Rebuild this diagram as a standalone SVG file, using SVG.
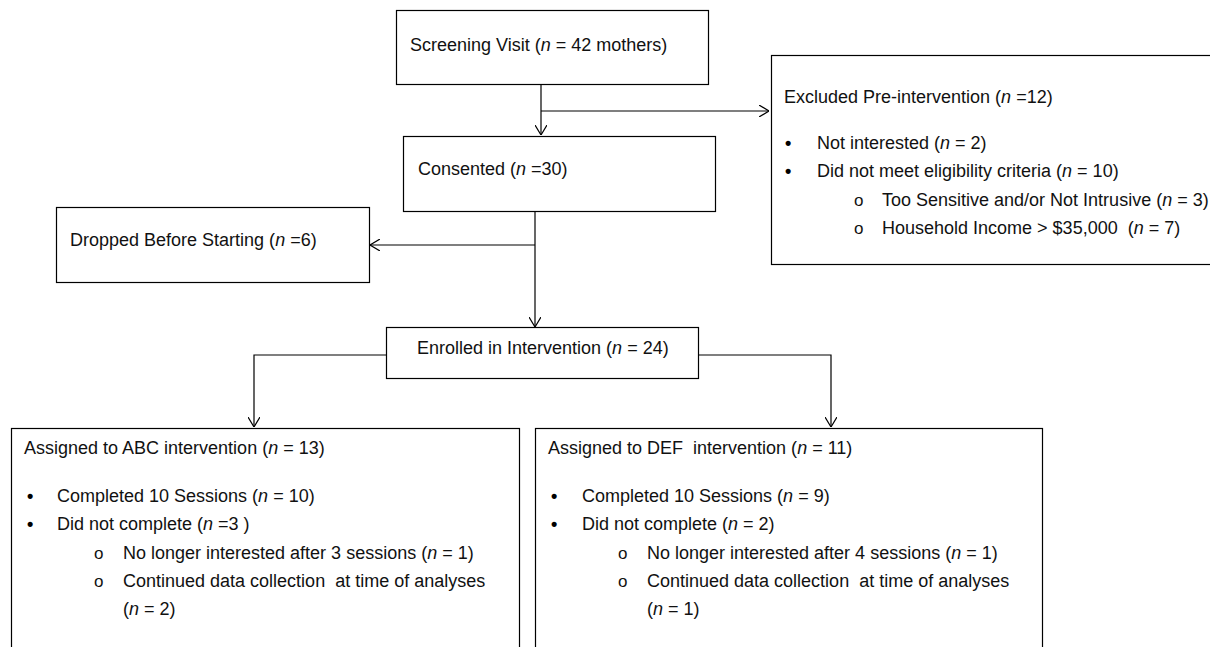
<svg xmlns="http://www.w3.org/2000/svg" width="1210" height="647" viewBox="0 0 1210 647">
<defs>
<style>
.box{fill:#fff;stroke:#000;stroke-width:1.2}
.t{font-family:"Liberation Sans",Arial,sans-serif;font-size:18px;fill:#111}
.i{font-style:italic}
.ln{fill:none;stroke:#000;stroke-width:1.2}
.b{font-family:"Liberation Sans",Arial,sans-serif;font-size:18px;font-weight:bold;fill:#000}
.o{font-family:"Liberation Sans",Arial,sans-serif;font-size:17px;fill:#111}
</style>
<marker id="ar" viewBox="0 0 10 12" refX="10" refY="6" markerWidth="10" markerHeight="12" markerUnits="userSpaceOnUse" orient="auto">
<path d="M0,0 L10,6 L0,12" fill="none" stroke="#000" stroke-width="1.2"/>
</marker>
</defs>
<rect width="1210" height="647" fill="#fff"/>
<g id="connectors">
<path class="ln" d="M541,84 V135" marker-end="url(#ar)"/>
<path class="ln" d="M541,111 H769" marker-end="url(#ar)"/>
<path class="ln" d="M535,211 V327" marker-end="url(#ar)"/>
<path class="ln" d="M535,245 H370" marker-end="url(#ar)"/>
<path class="ln" d="M386,355 H254 V427" marker-end="url(#ar)"/>
<path class="ln" d="M699,355 H831 V427" marker-end="url(#ar)"/>
</g>
<g id="screening">
<rect class="box" x="396.5" y="10.5" width="312" height="74"/>
<text class="t" x="410" y="51">Screening Visit (<tspan class="i">n</tspan> = 42 mothers)</text>
</g>
<g id="excluded">
<rect class="box" x="771.5" y="55.5" width="460" height="209"/>
<text class="t" x="784" y="103">Excluded Pre-intervention (<tspan class="i">n</tspan> =12)</text>
<text class="b" x="785" y="149">•</text>
<text class="t" x="817" y="149">Not interested (<tspan class="i">n</tspan> = 2)</text>
<text class="b" x="785" y="177">•</text>
<text class="t" x="817" y="177">Did not meet eligibility criteria (<tspan class="i">n</tspan> = 10)</text>
<text class="o" x="854" y="206">o</text>
<text class="t" x="882" y="206">Too Sensitive and/or Not Intrusive (<tspan class="i">n</tspan> = 3)</text>
<text class="o" x="854" y="234">o</text>
<text class="t" x="882" y="234">Household Income &gt; $35,000 &#160;(<tspan class="i">n</tspan> = 7)</text>
</g>
<g id="consented">
<rect class="box" x="403.5" y="136.5" width="312" height="75"/>
<text class="t" x="418" y="175">Consented (<tspan class="i">n</tspan> =30)</text>
</g>
<g id="dropped">
<rect class="box" x="56.5" y="207.5" width="313" height="75"/>
<text class="t" x="70" y="246">Dropped Before Starting (<tspan class="i">n</tspan> =6)</text>
</g>
<g id="enrolled">
<rect class="box" x="386.5" y="327.5" width="312" height="51"/>
<text class="t" x="417" y="354">Enrolled in Intervention (<tspan class="i">n</tspan> = 24)</text>
</g>
<g id="abc">
<rect class="box" x="11.5" y="428.5" width="508" height="240"/>
<text class="t" x="24" y="454">Assigned to ABC intervention (<tspan class="i">n</tspan> = 13)</text>
<text class="b" x="27" y="502">•</text>
<text class="t" x="57" y="502">Completed 10 Sessions (<tspan class="i">n</tspan> = 10)</text>
<text class="b" x="27" y="530">•</text>
<text class="t" x="57" y="530">Did not complete (<tspan class="i">n</tspan> =3 )</text>
<text class="o" x="94" y="559">o</text>
<text class="t" x="123" y="559">No longer interested after 3 sessions (<tspan class="i">n</tspan> = 1)</text>
<text class="o" x="94" y="587">o</text>
<text class="t" x="123" y="587">Continued data collection &#160;at time of analyses</text>
<text class="t" x="123" y="615">(<tspan class="i">n</tspan> = 2)</text>
</g>
<g id="def">
<rect class="box" x="535.5" y="428.5" width="507" height="240"/>
<text class="t" x="548" y="454">Assigned to DEF &#160;intervention (<tspan class="i">n</tspan> = 11)</text>
<text class="b" x="551" y="502">•</text>
<text class="t" x="582" y="502">Completed 10 Sessions (<tspan class="i">n</tspan> = 9)</text>
<text class="b" x="551" y="530">•</text>
<text class="t" x="582" y="530">Did not complete (<tspan class="i">n</tspan> = 2)</text>
<text class="o" x="618" y="559">o</text>
<text class="t" x="647" y="559">No longer interested after 4 sessions (<tspan class="i">n</tspan> = 1)</text>
<text class="o" x="618" y="587">o</text>
<text class="t" x="647" y="587">Continued data collection &#160;at time of analyses</text>
<text class="t" x="647" y="615">(<tspan class="i">n</tspan> = 1)</text>
</g>
</svg>
